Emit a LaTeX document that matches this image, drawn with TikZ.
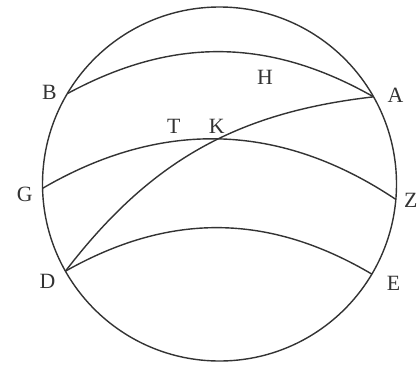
\documentclass[tikz,border=0pt]{standalone}
\usepackage{fontspec}
\setmainfont{Liberation Serif}
\usetikzlibrary{calc}

\begin{document}
\begin{tikzpicture}[x=0.025cm,y=0.025cm,line width=1pt,
    lbl/.style={font=\fontsize{15.5}{18}\selectfont,text=black!80}]
  \useasboundingbox (0,0) rectangle (420,364);
  % Sphere
  \coordinate (O) at (219.5,180);
  \def\rad{177}
  
  % Points on the rim
  \coordinate (B) at ($(O)+(149.3:\rad)$);
  \coordinate (A) at ($(O)+(29.5:\rad)$);
  \coordinate (G) at ($(O)+(181.4:\rad)$);
  \coordinate (Z) at ($(O)+(-5:\rad)$);
  \coordinate (D) at ($(O)+(209.5:\rad)$);
  \coordinate (E) at ($(O)+(-30.6:\rad)$);
  
  % Draw circle
  \draw[black!80] (O) circle (\rad);
  
  % Draw arcs
  \draw[black!80] (B) to[bend left=29] (A);
  \draw[black!80] (G) to[bend left=32] (Z);
  \draw[black!80] (D) to[bend left=30] (E);
  \draw[black!80] (D) to[bend left=23] (A);
  
  % Meeting point
  \coordinate (K) at (218.3,220.7);
  
  % Labels
  \node[lbl] (lB) at ($(B)+(-18,1.5)$) {B};
  \node[lbl] (lH) at (265,286.7) {H};
  \node[lbl] (lA) at ($(A)+(22,2)$) {A};
  \node[lbl] (lT) at (173.7,237.8) {T};
  \node[lbl] (lK) at ($(K)+(-1.6,17)$) {K};
  \node[lbl] (lG) at ($(G)+(-17.7,-6)$) {G};
  \node[lbl] (lZ) at ($(Z)+(15,-1)$) {Z};
  \node[lbl] (lD) at ($(D)+(-18,-10)$) {D};
  \node[lbl] (lE) at ($(E)+(21.6,-9.3)$) {E};
\end{tikzpicture}
\end{document}
